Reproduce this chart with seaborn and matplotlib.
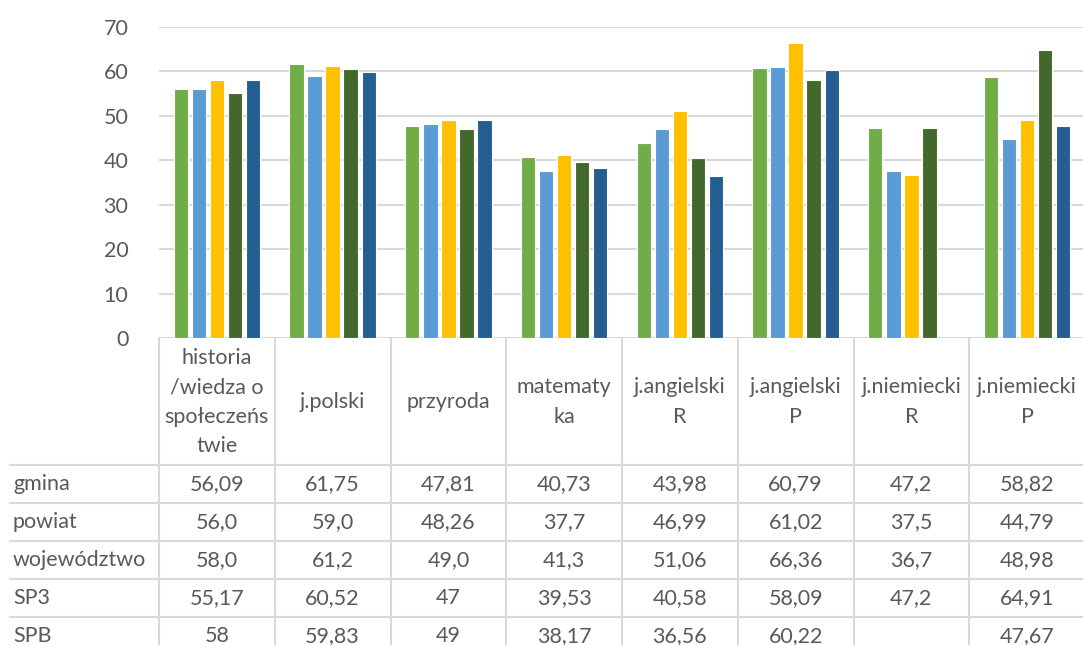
import matplotlib
matplotlib.use("Agg")
import matplotlib.pyplot as plt
import matplotlib.transforms as mtransforms
from matplotlib.lines import Line2D
import seaborn as sns
import pandas as pd
import numpy as np

# ---- data ----
categories = ["historia\n/wiedza o\nspołeczeńs\ntwie", "j.polski", "przyroda", "matematy\nka",
              "j.angielski\nR", "j.angielski\nP", "j.niemiecki\nR", "j.niemiecki\nP"]
series_names = ["gmina", "powiat", "województwo", "SP3", "SPB"]
gmina = ["56,09", "61,75", "47,81", "40,73", "43,98", "60,79", "47,2", "58,82"]
powiat = ["56,0", "59,0", "48,26", "37,7", "46,99", "61,02", "37,5", "44,79"]
wojewodztwo = ["58,0", "61,2", "49,0", "41,3", "51,06", "66,36", "36,7", "48,98"]
sp3 = ["55,17", "60,52", "47", "39,53", "40,58", "58,09", "47,2", "64,91"]
spb = ["58", "59,83", "49", "38,17", "36,56", "60,22", "", "47,67"]
y_ticks = [0, 10, 20, 30, 40, 50, 60, 70]
colors = ["#70AD47", "#5B9BD5", "#FFC000", "#43682B", "#255E91"]

table_rows = [gmina, powiat, wojewodztwo, sp3, spb]

def to_num(s):
    return float(s.replace(",", ".")) if s else np.nan

records = []
for name, row in zip(series_names, table_rows):
    for cat, v in zip(categories, row):
        records.append({"subject": cat, "series": name, "value": to_num(v)})
df = pd.DataFrame(records)

# ---- figure ----
sns.set_style("white")
plt.rcParams["font.family"] = ["Lato", "DejaVu Sans"]
TXT = "#595959"
GRID = "#D9D9D9"
W, H = 1083, 645
fig = plt.figure(figsize=(W / 100, H / 100), dpi=100)

def fx(px):
    return px / W

def fy(py):
    return 1 - py / H

ax_left, ax_right, ax_top, ax_bot = 159, 1085, 27, 338
ax = fig.add_axes([fx(ax_left), fy(ax_bot), fx(ax_right - ax_left), fy(ax_top) - fy(ax_bot)])

sns.barplot(data=df, x="subject", y="value", hue="series", order=categories,
            hue_order=series_names, palette=colors, width=0.78, gap=0.2,
            edgecolor="white", linewidth=0.8, ax=ax, legend=False, errorbar=None,
            saturation=1)

ax.set_ylim(0, 70)
ax.set_xlim(-0.5, len(categories) - 0.5)
ax.set_yticks(y_ticks)
ax.set_yticklabels([str(t) for t in y_ticks], fontsize=15.5, color=TXT)
ax.tick_params(axis="y", length=0, pad=22)
ax.set_xticks([])
ax.set_xlabel("")
ax.set_ylabel("")
for s in ax.spines.values():
    s.set_visible(False)
ax.yaxis.grid(True, color=GRID, linewidth=1.5)
ax.set_axisbelow(True)

# ---- data table ----
blend = mtransforms.blended_transform_factory(ax.transData, fig.transFigure)
lw = 1.5
# vertical lines at category boundaries
for i in range(len(categories) + 1):
    xb = i - 0.5
    fig.add_artist(Line2D([xb, xb], [fy(ax_bot), 0], transform=blend, color=GRID, lw=lw))
# horizontal lines
row_lines = [465, 503, 541, 579, 617]
for yl in row_lines:
    fig.add_artist(Line2D([fx(10), 1], [fy(yl), fy(yl)], transform=fig.transFigure, color=GRID, lw=lw))

# header
for i, cat in enumerate(categories):
    fig.text(i, fy(402), cat, transform=blend, ha="center", va="center",
             fontsize=15.5, color=TXT, linespacing=1.6)

# rows
row_centers = [484, 522, 560, 598, 636]
for name, row, yc in zip(series_names, table_rows, row_centers):
    fig.text(fx(13), fy(yc), name, ha="left", va="center", fontsize=15.5, color=TXT)
    for i, v in enumerate(row):
        fig.text(i, fy(yc), v, transform=blend, ha="center", va="center", fontsize=15.5, color=TXT)

fig.savefig("out.png", dpi=100)
